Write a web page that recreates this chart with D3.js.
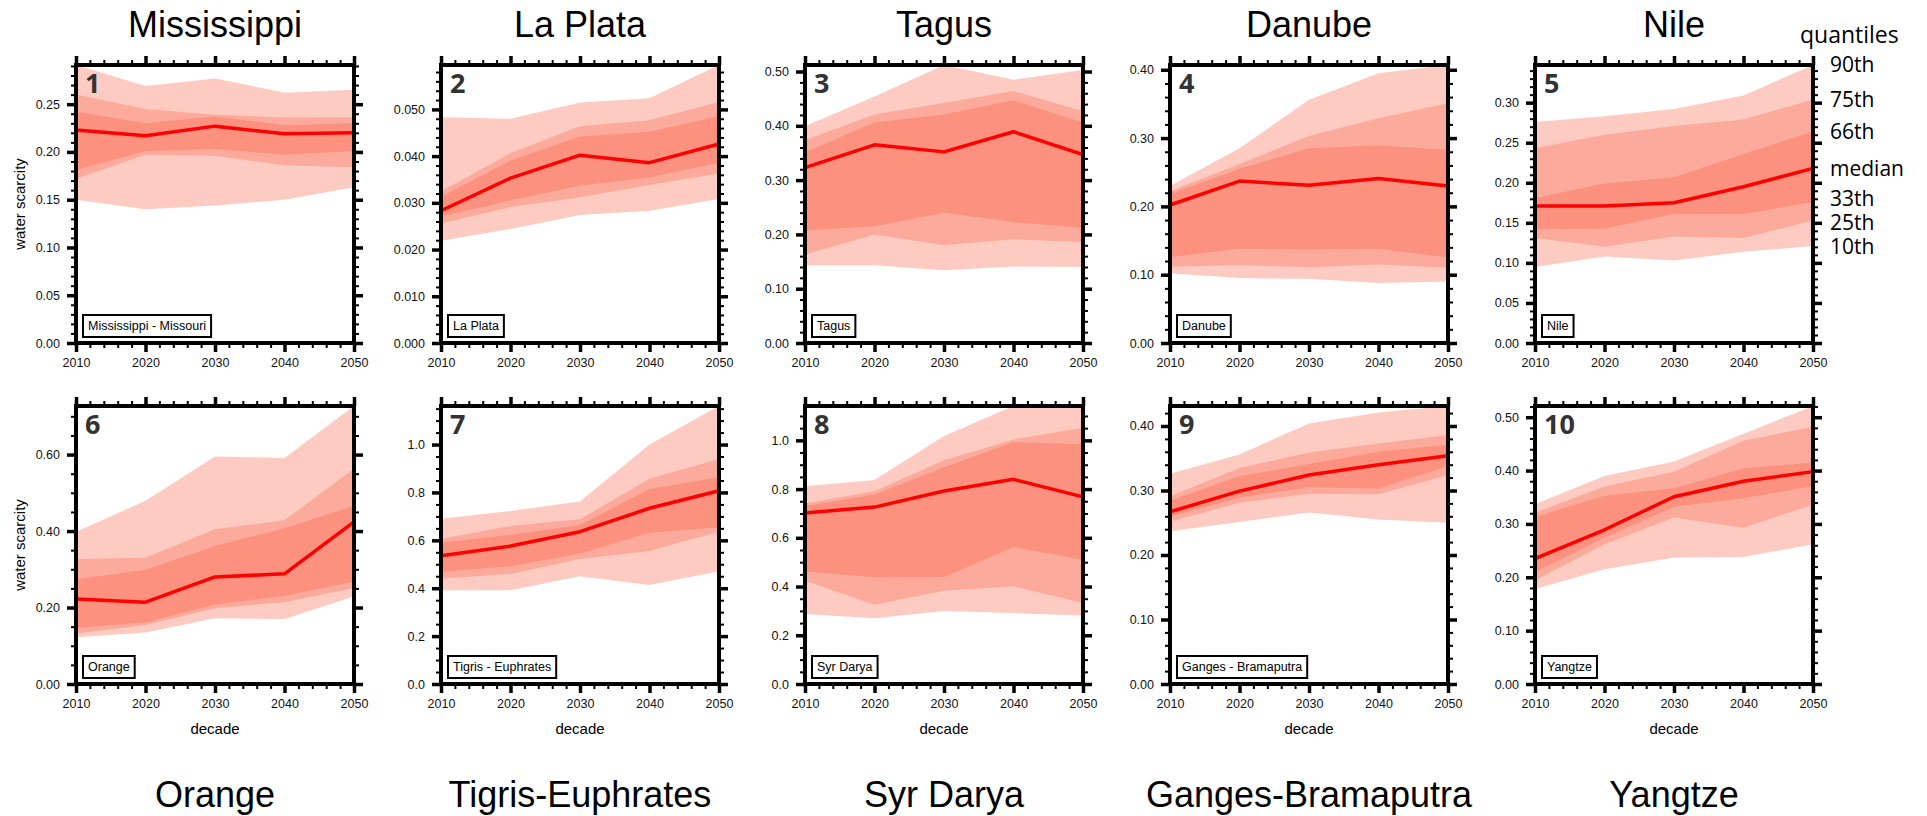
<!DOCTYPE html>
<html>
<head>
<meta charset="utf-8">
<script src="https://cdn.jsdelivr.net/npm/d3@7"></script>
<style>
    body { margin: 0; background: #fff; }
    text { font-family: "Liberation Sans", Arial, Helvetica, sans-serif; }
</style>
</head>
<body>
<script>
var years = [2010, 2020, 2030, 2040, 2050];
var topTitles = ["Mississippi", "La Plata", "Tagus", "Danube", "Nile"];
var bottomTitles = ["Orange", "Tigris-Euphrates", "Syr Darya", "Ganges-Bramaputra", "Yangtze"];
var boxLabels = ["Mississippi - Missouri", "La Plata", "Tagus", "Danube", "Nile",
    "Orange", "Tigris - Euphrates", "Syr Darya", "Ganges - Bramaputra", "Yangtze"];
var quantileNames = ["90th", "75th", "66th", "median", "33th", "25th", "10th"];

// quantiles of water scarcity, one row per basin, one value per decade
var p90 = [
    [0.291, 0.269, 0.277, 0.262, 0.265],
    [0.0483, 0.0480, 0.0515, 0.0524, 0.0595],
    [0.399, 0.454, 0.512, 0.485, 0.503],
    [0.230, 0.285, 0.356, 0.395, 0.407],
    [0.276, 0.283, 0.292, 0.309, 0.347],
    [0.398, 0.479, 0.595, 0.591, 0.727],
    [0.690, 0.723, 0.762, 1.000, 1.161],
    [0.812, 0.837, 1.018, 1.141, 1.141],
    [0.326, 0.356, 0.404, 0.421, 0.431],
    [0.337, 0.390, 0.417, 0.469, 0.521]
];
var p75 = [
    [0.260, 0.245, 0.239, 0.236, 0.236],
    [0.0324, 0.0406, 0.0464, 0.0477, 0.0516],
    [0.374, 0.421, 0.442, 0.464, 0.427],
    [0.222, 0.262, 0.303, 0.329, 0.351],
    [0.243, 0.260, 0.271, 0.279, 0.304],
    [0.327, 0.330, 0.405, 0.428, 0.563],
    [0.606, 0.660, 0.688, 0.857, 0.940],
    [0.741, 0.791, 0.918, 1.004, 1.052],
    [0.291, 0.335, 0.359, 0.373, 0.386],
    [0.321, 0.370, 0.398, 0.456, 0.482]
];
var p66 = [
    [0.242, 0.230, 0.237, 0.228, 0.230],
    [0.0313, 0.0390, 0.0442, 0.0452, 0.0486],
    [0.351, 0.406, 0.421, 0.447, 0.406],
    [0.218, 0.255, 0.285, 0.289, 0.283],
    [0.181, 0.199, 0.207, 0.236, 0.264],
    [0.274, 0.299, 0.361, 0.407, 0.466],
    [0.590, 0.622, 0.664, 0.814, 0.863],
    [0.730, 0.778, 0.890, 0.993, 0.984],
    [0.284, 0.322, 0.341, 0.360, 0.371],
    [0.313, 0.353, 0.367, 0.404, 0.415]
];
var median = [
    [0.223, 0.217, 0.227, 0.219, 0.220],
    [0.0283, 0.0353, 0.0402, 0.0386, 0.0426],
    [0.323, 0.365, 0.352, 0.389, 0.347],
    [0.202, 0.237, 0.231, 0.241, 0.230],
    [0.171, 0.171, 0.175, 0.195, 0.218],
    [0.222, 0.214, 0.280, 0.288, 0.424],
    [0.536, 0.576, 0.636, 0.734, 0.807],
    [0.702, 0.726, 0.792, 0.840, 0.768],
    [0.267, 0.299, 0.324, 0.340, 0.354],
    [0.235, 0.289, 0.351, 0.380, 0.398]
];
var p33 = [
    [0.181, 0.201, 0.203, 0.197, 0.201],
    [0.0271, 0.0305, 0.0337, 0.0354, 0.0386],
    [0.207, 0.215, 0.240, 0.223, 0.212],
    [0.126, 0.138, 0.137, 0.138, 0.125],
    [0.142, 0.143, 0.161, 0.161, 0.176],
    [0.147, 0.161, 0.208, 0.230, 0.268],
    [0.469, 0.492, 0.545, 0.632, 0.655],
    [0.462, 0.438, 0.439, 0.562, 0.510],
    [0.260, 0.289, 0.305, 0.303, 0.338],
    [0.210, 0.274, 0.332, 0.348, 0.371]
];
var p25 = [
    [0.172, 0.197, 0.196, 0.186, 0.184],
    [0.0256, 0.0291, 0.0312, 0.0338, 0.0363],
    [0.163, 0.200, 0.180, 0.191, 0.186],
    [0.112, 0.114, 0.111, 0.115, 0.110],
    [0.131, 0.120, 0.133, 0.131, 0.153],
    [0.132, 0.154, 0.198, 0.214, 0.251],
    [0.441, 0.459, 0.522, 0.555, 0.636],
    [0.424, 0.325, 0.383, 0.401, 0.332],
    [0.252, 0.281, 0.295, 0.294, 0.324],
    [0.194, 0.262, 0.312, 0.293, 0.336]
];
var p10 = [
    [0.150, 0.140, 0.144, 0.150, 0.163],
    [0.0219, 0.0244, 0.0274, 0.0283, 0.0308],
    [0.143, 0.143, 0.134, 0.141, 0.140],
    [0.102, 0.095, 0.094, 0.088, 0.090],
    [0.095, 0.108, 0.103, 0.114, 0.121],
    [0.122, 0.135, 0.172, 0.170, 0.229],
    [0.392, 0.392, 0.450, 0.413, 0.471],
    [0.287, 0.270, 0.300, 0.291, 0.281],
    [0.237, 0.251, 0.266, 0.255, 0.250],
    [0.178, 0.215, 0.237, 0.238, 0.262]
];

// y tick spacing per panel
var yMajor = [0.05, 0.01, 0.1, 0.1, 0.05, 0.2, 0.2, 0.2, 0.1, 0.1];
var yMinor = [0.01, 0.002, 0.02, 0.02, 0.01, 0.05, 0.05, 0.05, 0.02, 0.02];
var yDecimals = [2, 3, 2, 2, 2, 2, 1, 1, 2, 2];

var W = 1927, H = 816;
var size = 278;
var lefts = [76, 441, 805, 1170, 1535];
var rowTops = [65, 406];
var bandColors = ["#fdcbc2", "#fcaa9b", "#fb917e"];

var svg = d3.select("body").append("svg")
    .attr("width", W)
    .attr("height", H);

var x = d3.scaleLinear().domain([2010, 2050]).range([0, size]);

function steps(max, step) {
    var n = Math.floor(max / step + 1e-6);
    return d3.range(0, n + 1).map(function(i) { return +(i * step).toFixed(6); });
}

var yScales = [];

for (var i = 0; i < 10; i++) {
    var row = Math.floor(i / 5), col = i % 5;
    var px = lefts[col], py = rowTops[row];

    var yMax = d3.max(p90[i]);
    var y = d3.scaleLinear().domain([0, yMax]).range([size, 0]);
    yScales.push(y);

    var g = svg.append("g").attr("transform", "translate(" + px + "," + py + ")");

    // bands 10-90, 25-75, 33-66
    var bands = [[p10[i], p90[i]], [p25[i], p75[i]], [p33[i], p66[i]]];
    bands.forEach(function(b, k) {
        var area = d3.area()
            .x(function(d, j) { return x(years[j]); })
            .y0(function(d, j) { return y(b[0][j]); })
            .y1(function(d, j) { return y(b[1][j]); });
        g.append("path")
            .datum(years)
            .attr("d", area)
            .attr("fill", bandColors[k]);
    });

    var line = d3.line()
        .x(function(d, j) { return x(years[j]); })
        .y(function(d) { return y(d); });
    g.append("path")
        .datum(median[i])
        .attr("d", line)
        .attr("fill", "none")
        .attr("stroke", "#ff0000")
        .attr("stroke-width", 3.5)
        .attr("stroke-linejoin", "round");

    // minor ticks on all sides
    var xMinorVals = d3.range(2010, 2051, 2);
    var yMinorVals = steps(yMax, yMinor[i]);
    var minorAxes = [
        [d3.axisBottom(x).tickValues(xMinorVals), "translate(0," + size + ")"],
        [d3.axisTop(x).tickValues(xMinorVals), "translate(0,0)"],
        [d3.axisLeft(y).tickValues(yMinorVals), "translate(0,0)"],
        [d3.axisRight(y).tickValues(yMinorVals), "translate(" + size + ",0)"]
    ];
    minorAxes.forEach(function(a) {
        var ag = g.append("g").attr("transform", a[1])
            .call(a[0].tickSize(5).tickFormat(""));
        ag.select(".domain").remove();
        ag.selectAll("line").attr("stroke-width", 2);
    });

    // major ticks
    var fmt = d3.format("." + yDecimals[i] + "f");
    var yMajorVals = steps(yMax, yMajor[i]);
    var xb = g.append("g").attr("transform", "translate(0," + size + ")")
        .call(d3.axisBottom(x).tickValues(years).tickSize(9).tickPadding(6).tickFormat(d3.format("d")));
    var xt = g.append("g")
        .call(d3.axisTop(x).tickValues(years).tickSize(9).tickFormat(""));
    var yl = g.append("g")
        .call(d3.axisLeft(y).tickValues(yMajorVals).tickSize(9).tickPadding(7).tickFormat(fmt));
    var yr = g.append("g").attr("transform", "translate(" + size + ",0)")
        .call(d3.axisRight(y).tickValues(yMajorVals).tickSize(9).tickFormat(""));
    [xb, xt, yl, yr].forEach(function(ag) {
        ag.select(".domain").remove();
        ag.selectAll("line").attr("stroke-width", 3.5);
        ag.selectAll("text")
            .attr("fill", "#111")
            .style("font-size", "12.5px")
            .style("font-family", "'Liberation Sans', Arial, sans-serif");
    });

    // frame
    g.append("rect")
        .attr("width", size)
        .attr("height", size)
        .attr("fill", "none")
        .attr("stroke", "#000")
        .attr("stroke-width", 4);

    // panel number
    g.append("text")
        .attr("x", 9)
        .attr("y", 28)
        .attr("fill", "#333")
        .style("font-family", "'Open Sans', sans-serif")
        .style("font-weight", "bold")
        .style("font-size", "27px")
        .text(i + 1);

    // basin name box
    var box = g.append("rect")
        .attr("x", 7)
        .attr("y", size - 28)
        .attr("height", 22)
        .attr("fill", "#fff")
        .attr("stroke", "#000")
        .attr("stroke-width", 2);
    var lab = g.append("text")
        .attr("x", 12)
        .attr("y", size - 13)
        .style("font-size", "12.5px")
        .text(boxLabels[i]);
    box.attr("width", lab.node().getComputedTextLength() + 10);

    // axis titles
    if (col === 0) {
        g.append("text")
            .attr("transform", "translate(-51," + (size / 2) + ") rotate(-90)")
            .attr("text-anchor", "middle")
            .style("font-size", "15px")
            .text("water scarcity");
    }
    if (row === 1) {
        g.append("text")
            .attr("x", size / 2)
            .attr("y", size + 50)
            .attr("text-anchor", "middle")
            .style("font-size", "15px")
            .text("decade");
    }
}

// basin titles above and below
topTitles.forEach(function(t, c) {
    svg.append("text")
        .attr("x", lefts[c] + size / 2)
        .attr("y", 37)
        .attr("text-anchor", "middle")
        .style("font-size", "36px")
        .text(t);
});
bottomTitles.forEach(function(t, c) {
    svg.append("text")
        .attr("x", lefts[c] + size / 2)
        .attr("y", 807)
        .attr("text-anchor", "middle")
        .style("font-size", "36px")
        .text(t);
});

// quantile key, placed at the Nile 2050 values and spread apart a bit
var nileY = yScales[4];
var nileVals = [p90[4][4], p75[4][4], p66[4][4], median[4][4], p33[4][4], p25[4][4], p10[4][4]];
var keyY = nileVals.map(function(v) { return rowTops[0] + nileY(v); });
var minGap = 24;
for (var it = 0; it < 20; it++) {
    for (var k = 1; k < keyY.length; k++) {
        var gap = keyY[k] - keyY[k - 1];
        if (gap < minGap) {
            keyY[k - 1] -= (minGap - gap) / 2;
            keyY[k] += (minGap - gap) / 2;
        }
    }
}
svg.append("text")
    .attr("x", 1800)
    .attr("y", 43)
    .style("font-family", "'Open Sans', sans-serif")
    .style("font-size", "23px")
    .text("quantiles");
quantileNames.forEach(function(q, k) {
    svg.append("text")
        .attr("x", 1830)
        .attr("y", keyY[k])
        .attr("dy", "0.35em")
        .style("font-family", "'Open Sans', sans-serif")
        .style("font-size", "21px")
        .text(q);
});
</script>
</body>
</html>
